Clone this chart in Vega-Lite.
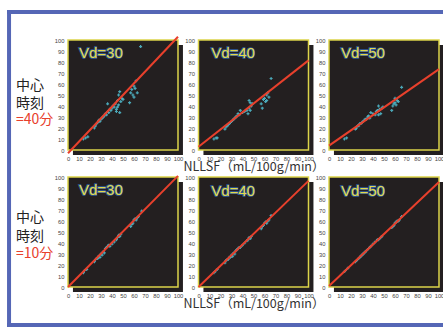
{
"$schema": "https://vega.github.io/schema/vega-lite/v6.json",
"padding": {"left": 6, "top": 9, "right": 0, "bottom": 1},
"background": "white",
"bounds": "flush",
"columns": 3,
"spacing": {"row": 27, "column": 20.5},
"datasets": {
 "panels": [
  {"t":"40","vd":"30","label":"Vd=30"},{"t":"40","vd":"40","label":"Vd=40"},{"t":"40","vd":"50","label":"Vd=50"},
  {"t":"10","vd":"30","label":"Vd=30"},{"t":"10","vd":"40","label":"Vd=40"},{"t":"10","vd":"50","label":"Vd=50"}
 ],
 "rowlab": [
  {"t":"40","a":"中心","b":"時刻","c":"=40分"},
  {"t":"10","a":"中心","b":"時刻","c":"=10分"}
 ],
 "fit": [
  {"t":"40","vd":"30","x":[0,100],"y":[-3,103]},
  {"t":"40","vd":"40","x":[0,100],"y":[3,81.5]},
  {"t":"40","vd":"50","x":[0,100],"y":[4,73.5]},
  {"t":"10","vd":"30","x":[0,100],"y":[0,101]},
  {"t":"10","vd":"40","x":[0,100],"y":[0,96.5]},
  {"t":"10","vd":"50","x":[0,100],"y":[1,95.5]}
 ],
 "pts": [
  {"t":"40","vd":"30","x":[14,16,18,24,25,26,27,28,29,30,31,32,33,34,35,36,37,38,39,40,41,42,43,44,45,46,47,48,46,45,49,50,44,47,36,56,57,58,59,60,61,62,63,60,66],"y":[10,11,12,20,22,24,25,27,26,28,29,30,31,33,32,35,34,37,36,38,40,39,42,37,45,50,53,44,41,39,47,46,35,34,42,43,52,55,50,58,56,63,52,48,94]},
  {"t":"40","vd":"40","x":[14,16,17,24,25,26,27,28,29,30,31,32,33,34,35,36,37,38,40,42,44,45,46,46,47,48,49,47,57,58,59,60,61,62,63,64,62,66],"y":[10,11,11,19,21,22,23,24,25,26,27,28,29,30,31,33,32,36,34,35,36,33,38,45,43,40,42,36,42,38,46,47,44,50,52,48,45,65]},
  {"t":"40","vd":"50","x":[14,16,24,25,26,27,28,29,30,31,32,33,34,35,36,37,38,40,42,43,44,45,46,47,48,45,49,57,58,59,60,61,62,63,60,66],"y":[10,11,19,20,22,22,24,24,25,26,27,28,28,30,31,29,34,33,32,35,36,40,37,33,38,32,39,36,40,42,43,41,45,44,47,57]},
  {"t":"10","vd":"30","x":[14,15,17,24,25,26,27,28,29,30,31,32,33,34,35,36,37,38,40,42,44,45,46,47,48,57,58,59,60,61,62,63,64,67],"y":[13,15,16,23,25,26,26,28,27,30,29,32,31,35,36,37,38,37,39,41,43,45,47,46,48,55,57,58,61,62,61,63,64,69]},
  {"t":"10","vd":"40","x":[14,15,17,24,25,26,27,28,29,30,31,32,33,34,35,36,37,38,40,42,44,45,46,47,48,57,58,59,60,61,62,63,64,66],"y":[13,14,16,22,24,25,25,27,27,29,28,31,30,33,34,35,36,36,38,40,42,43,45,44,46,53,55,56,58,59,58,60,61,65]},
  {"t":"10","vd":"50","x":[14,15,17,24,25,26,27,28,29,30,31,32,33,34,35,36,37,38,40,42,44,45,46,47,48,57,58,59,60,61,62,63,64,66],"y":[14,15,17,23,24,25,26,27,28,29,30,31,32,33,34,35,36,37,39,41,43,43,44,45,46,54,55,56,58,59,60,60,61,64]}
 ]
},
"concat": [
 {"width":110,"height":110,"layer":[
  {"data":{"name":"panels"},"transform":[{"filter":"datum.t=='40'&&datum.vd=='30'"}],"mark":{"type":"rule","color":"#5567b6","strokeWidth":4,"strokeCap":"square","clip":false},"encoding":{"x":{"datum":-53.6},"x2":{"datum":340},"y":{"datum":125.5}}},
  {"data":{"name":"panels"},"transform":[{"filter":"datum.t=='40'&&datum.vd=='30'"}],"mark":{"type":"rule","color":"#5567b6","strokeWidth":4,"strokeCap":"square","clip":false},"encoding":{"x":{"datum":-53.6},"x2":{"datum":340},"y":{"datum":-159.1}}},
  {"data":{"name":"panels"},"transform":[{"filter":"datum.t=='40'&&datum.vd=='30'"}],"mark":{"type":"rule","color":"#5567b6","strokeWidth":4,"strokeCap":"square","clip":false},"encoding":{"x":{"datum":-53.6},"y":{"datum":125.5},"y2":{"datum":-159.1}}},
  {"data":{"name":"rowlab"},"transform":[{"filter":"datum.t=='40'"}],"mark":{"type":"text","align":"left","baseline":"middle","font":"Noto Sans CJK JP","fontSize":14,"color":"#222222","clip":false},"encoding":{"x":{"datum":-47.3},"y":{"datum":58.2},"text":{"field":"a"}}},
  {"data":{"name":"rowlab"},"transform":[{"filter":"datum.t=='40'"}],"mark":{"type":"text","align":"left","baseline":"middle","font":"Noto Sans CJK JP","fontSize":14,"color":"#222222","clip":false},"encoding":{"x":{"datum":-47.3},"y":{"datum":41.8},"text":{"field":"b"}}},
  {"data":{"name":"rowlab"},"transform":[{"filter":"datum.t=='40'"}],"mark":{"type":"text","align":"left","baseline":"middle","font":"Noto Sans CJK JP","fontSize":14,"color":"#e8402c","clip":false},"encoding":{"x":{"datum":-47.3},"y":{"datum":27.3},"text":{"field":"c"}}},
  {"data":{"name":"panels"},"transform":[{"filter":"datum.t=='40'&&datum.vd=='30'"}],"mark":{"type":"rect","color":"#231f20","clip":false},"encoding":{"x":{"datum":4.5},"x2":{"datum":104.5},"y":{"datum":-4.5},"y2":{"datum":95.5}}},
  {"data":{"name":"panels"},"transform":[{"filter":"datum.t=='40'&&datum.vd=='30'"}],"mark":{"type":"rect","fill":"#231f20","stroke":"#dcd449","strokeWidth":1.5},"encoding":{"x":{"datum":0},"x2":{"datum":100},"y":{"datum":0},"y2":{"datum":100}}},
  {"data":{"name":"pts"},"transform":[{"filter":"datum.t=='40'&&datum.vd=='30'"},{"flatten":["x","y"]}],"mark":{"type":"point","shape":"cross","filled":true,"size":9,"color":"#4fb6c8","opacity":0.9},"encoding":{"x":{"field":"x","type":"quantitative","scale":{"domain":[0,100]},"axis":{"title":null}},"y":{"field":"y","type":"quantitative","scale":{"domain":[0,100]},"axis":{"title":null}}}},
  {"data":{"name":"fit"},"transform":[{"filter":"datum.t=='40'&&datum.vd=='30'"},{"flatten":["x","y"]}],"mark":{"type":"line","color":"#e8402c","strokeWidth":2,"clip":false},"encoding":{"x":{"field":"x","type":"quantitative"},"y":{"field":"y","type":"quantitative"}}},
  {"data":{"name":"panels"},"transform":[{"filter":"datum.t=='40'&&datum.vd=='30'"}],"mark":{"type":"text","align":"left","baseline":"middle","font":"Liberation Sans","fontSize":15,"fill":"#2d5a9c","stroke":"#2d5a9c","strokeWidth":1.6},"encoding":{"x":{"datum":10},"y":{"datum":88},"text":{"field":"label"}}},
  {"data":{"name":"panels"},"transform":[{"filter":"datum.t=='40'&&datum.vd=='30'"}],"mark":{"type":"text","align":"left","baseline":"middle","font":"Liberation Sans","fontSize":15,"fill":"#e3da4a"},"encoding":{"x":{"datum":10},"y":{"datum":88},"text":{"field":"label"}}}
 ]},
 {"width":110,"height":110,"layer":[
  {"data":{"name":"panels"},"transform":[{"filter":"datum.t=='40'&&datum.vd=='40'"}],"mark":{"type":"rect","color":"#231f20","clip":false},"encoding":{"x":{"datum":4.5},"x2":{"datum":104.5},"y":{"datum":-4.5},"y2":{"datum":95.5}}},
  {"data":{"name":"panels"},"transform":[{"filter":"datum.t=='40'&&datum.vd=='40'"}],"mark":{"type":"rect","fill":"#231f20","stroke":"#dcd449","strokeWidth":1.5},"encoding":{"x":{"datum":0},"x2":{"datum":100},"y":{"datum":0},"y2":{"datum":100}}},
  {"data":{"name":"pts"},"transform":[{"filter":"datum.t=='40'&&datum.vd=='40'"},{"flatten":["x","y"]}],"mark":{"type":"point","shape":"cross","filled":true,"size":9,"color":"#4fb6c8","opacity":0.9},"encoding":{"x":{"field":"x","type":"quantitative","scale":{"domain":[0,100]},"axis":{"title":"NLLSF（mL/100g/min）"}},"y":{"field":"y","type":"quantitative","scale":{"domain":[0,100]},"axis":{"title":null}}}},
  {"data":{"name":"fit"},"transform":[{"filter":"datum.t=='40'&&datum.vd=='40'"},{"flatten":["x","y"]}],"mark":{"type":"line","color":"#e8402c","strokeWidth":2,"clip":false},"encoding":{"x":{"field":"x","type":"quantitative"},"y":{"field":"y","type":"quantitative"}}},
  {"data":{"name":"panels"},"transform":[{"filter":"datum.t=='40'&&datum.vd=='40'"}],"mark":{"type":"text","align":"left","baseline":"middle","font":"Liberation Sans","fontSize":15,"fill":"#2d5a9c","stroke":"#2d5a9c","strokeWidth":1.6},"encoding":{"x":{"datum":11.5},"y":{"datum":88},"text":{"field":"label"}}},
  {"data":{"name":"panels"},"transform":[{"filter":"datum.t=='40'&&datum.vd=='40'"}],"mark":{"type":"text","align":"left","baseline":"middle","font":"Liberation Sans","fontSize":15,"fill":"#e3da4a"},"encoding":{"x":{"datum":11.5},"y":{"datum":88},"text":{"field":"label"}}}
 ]},
 {"width":110,"height":110,"layer":[
  {"data":{"name":"panels"},"transform":[{"filter":"datum.t=='40'&&datum.vd=='50'"}],"mark":{"type":"rect","color":"#231f20","clip":false},"encoding":{"x":{"datum":4.5},"x2":{"datum":104.5},"y":{"datum":-4.5},"y2":{"datum":95.5}}},
  {"data":{"name":"panels"},"transform":[{"filter":"datum.t=='40'&&datum.vd=='50'"}],"mark":{"type":"rect","fill":"#231f20","stroke":"#dcd449","strokeWidth":1.5},"encoding":{"x":{"datum":0},"x2":{"datum":100},"y":{"datum":0},"y2":{"datum":100}}},
  {"data":{"name":"pts"},"transform":[{"filter":"datum.t=='40'&&datum.vd=='50'"},{"flatten":["x","y"]}],"mark":{"type":"point","shape":"cross","filled":true,"size":9,"color":"#4fb6c8","opacity":0.9},"encoding":{"x":{"field":"x","type":"quantitative","scale":{"domain":[0,100]},"axis":{"title":null}},"y":{"field":"y","type":"quantitative","scale":{"domain":[0,100]},"axis":{"title":null}}}},
  {"data":{"name":"fit"},"transform":[{"filter":"datum.t=='40'&&datum.vd=='50'"},{"flatten":["x","y"]}],"mark":{"type":"line","color":"#e8402c","strokeWidth":2,"clip":false},"encoding":{"x":{"field":"x","type":"quantitative"},"y":{"field":"y","type":"quantitative"}}},
  {"data":{"name":"panels"},"transform":[{"filter":"datum.t=='40'&&datum.vd=='50'"}],"mark":{"type":"text","align":"left","baseline":"middle","font":"Liberation Sans","fontSize":15,"fill":"#2d5a9c","stroke":"#2d5a9c","strokeWidth":1.6},"encoding":{"x":{"datum":11},"y":{"datum":88},"text":{"field":"label"}}},
  {"data":{"name":"panels"},"transform":[{"filter":"datum.t=='40'&&datum.vd=='50'"}],"mark":{"type":"text","align":"left","baseline":"middle","font":"Liberation Sans","fontSize":15,"fill":"#e3da4a"},"encoding":{"x":{"datum":11},"y":{"datum":88},"text":{"field":"label"}}}
 ]},
 {"width":110,"height":110,"layer":[
  {"data":{"name":"rowlab"},"transform":[{"filter":"datum.t=='10'"}],"mark":{"type":"text","align":"left","baseline":"middle","font":"Noto Sans CJK JP","fontSize":14,"color":"#222222","clip":false},"encoding":{"x":{"datum":-47.3},"y":{"datum":62.7},"text":{"field":"a"}}},
  {"data":{"name":"rowlab"},"transform":[{"filter":"datum.t=='10'"}],"mark":{"type":"text","align":"left","baseline":"middle","font":"Noto Sans CJK JP","fontSize":14,"color":"#222222","clip":false},"encoding":{"x":{"datum":-47.3},"y":{"datum":45.5},"text":{"field":"b"}}},
  {"data":{"name":"rowlab"},"transform":[{"filter":"datum.t=='10'"}],"mark":{"type":"text","align":"left","baseline":"middle","font":"Noto Sans CJK JP","fontSize":14,"color":"#e8402c","clip":false},"encoding":{"x":{"datum":-47.3},"y":{"datum":30},"text":{"field":"c"}}},
  {"data":{"name":"panels"},"transform":[{"filter":"datum.t=='10'&&datum.vd=='30'"}],"mark":{"type":"rect","color":"#231f20","clip":false},"encoding":{"x":{"datum":4.5},"x2":{"datum":104.5},"y":{"datum":-4.5},"y2":{"datum":95.5}}},
  {"data":{"name":"panels"},"transform":[{"filter":"datum.t=='10'&&datum.vd=='30'"}],"mark":{"type":"rect","fill":"#231f20","stroke":"#dcd449","strokeWidth":1.5},"encoding":{"x":{"datum":0},"x2":{"datum":100},"y":{"datum":0},"y2":{"datum":100}}},
  {"data":{"name":"pts"},"transform":[{"filter":"datum.t=='10'&&datum.vd=='30'"},{"flatten":["x","y"]}],"mark":{"type":"point","shape":"cross","filled":true,"size":9,"color":"#4fb6c8","opacity":0.9},"encoding":{"x":{"field":"x","type":"quantitative","scale":{"domain":[0,100]},"axis":{"title":null}},"y":{"field":"y","type":"quantitative","scale":{"domain":[0,100]},"axis":{"title":null}}}},
  {"data":{"name":"fit"},"transform":[{"filter":"datum.t=='10'&&datum.vd=='30'"},{"flatten":["x","y"]}],"mark":{"type":"line","color":"#e8402c","strokeWidth":2,"clip":false},"encoding":{"x":{"field":"x","type":"quantitative"},"y":{"field":"y","type":"quantitative"}}},
  {"data":{"name":"panels"},"transform":[{"filter":"datum.t=='10'&&datum.vd=='30'"}],"mark":{"type":"text","align":"left","baseline":"middle","font":"Liberation Sans","fontSize":15,"fill":"#2d5a9c","stroke":"#2d5a9c","strokeWidth":1.6},"encoding":{"x":{"datum":10},"y":{"datum":88},"text":{"field":"label"}}},
  {"data":{"name":"panels"},"transform":[{"filter":"datum.t=='10'&&datum.vd=='30'"}],"mark":{"type":"text","align":"left","baseline":"middle","font":"Liberation Sans","fontSize":15,"fill":"#e3da4a"},"encoding":{"x":{"datum":10},"y":{"datum":88},"text":{"field":"label"}}}
 ]},
 {"width":110,"height":110,"layer":[
  {"data":{"name":"panels"},"transform":[{"filter":"datum.t=='10'&&datum.vd=='40'"}],"mark":{"type":"rect","color":"#231f20","clip":false},"encoding":{"x":{"datum":4.5},"x2":{"datum":104.5},"y":{"datum":-4.5},"y2":{"datum":95.5}}},
  {"data":{"name":"panels"},"transform":[{"filter":"datum.t=='10'&&datum.vd=='40'"}],"mark":{"type":"rect","fill":"#231f20","stroke":"#dcd449","strokeWidth":1.5},"encoding":{"x":{"datum":0},"x2":{"datum":100},"y":{"datum":0},"y2":{"datum":100}}},
  {"data":{"name":"pts"},"transform":[{"filter":"datum.t=='10'&&datum.vd=='40'"},{"flatten":["x","y"]}],"mark":{"type":"point","shape":"cross","filled":true,"size":9,"color":"#4fb6c8","opacity":0.9},"encoding":{"x":{"field":"x","type":"quantitative","scale":{"domain":[0,100]},"axis":{"title":"NLLSF（mL/100g/min）"}},"y":{"field":"y","type":"quantitative","scale":{"domain":[0,100]},"axis":{"title":null}}}},
  {"data":{"name":"fit"},"transform":[{"filter":"datum.t=='10'&&datum.vd=='40'"},{"flatten":["x","y"]}],"mark":{"type":"line","color":"#e8402c","strokeWidth":2,"clip":false},"encoding":{"x":{"field":"x","type":"quantitative"},"y":{"field":"y","type":"quantitative"}}},
  {"data":{"name":"panels"},"transform":[{"filter":"datum.t=='10'&&datum.vd=='40'"}],"mark":{"type":"text","align":"left","baseline":"middle","font":"Liberation Sans","fontSize":15,"fill":"#2d5a9c","stroke":"#2d5a9c","strokeWidth":1.6},"encoding":{"x":{"datum":11.5},"y":{"datum":87},"text":{"field":"label"}}},
  {"data":{"name":"panels"},"transform":[{"filter":"datum.t=='10'&&datum.vd=='40'"}],"mark":{"type":"text","align":"left","baseline":"middle","font":"Liberation Sans","fontSize":15,"fill":"#e3da4a"},"encoding":{"x":{"datum":11.5},"y":{"datum":87},"text":{"field":"label"}}}
 ]},
 {"width":110,"height":110,"layer":[
  {"data":{"name":"panels"},"transform":[{"filter":"datum.t=='10'&&datum.vd=='50'"}],"mark":{"type":"rect","color":"#231f20","clip":false},"encoding":{"x":{"datum":4.5},"x2":{"datum":104.5},"y":{"datum":-4.5},"y2":{"datum":95.5}}},
  {"data":{"name":"panels"},"transform":[{"filter":"datum.t=='10'&&datum.vd=='50'"}],"mark":{"type":"rect","fill":"#231f20","stroke":"#dcd449","strokeWidth":1.5},"encoding":{"x":{"datum":0},"x2":{"datum":100},"y":{"datum":0},"y2":{"datum":100}}},
  {"data":{"name":"pts"},"transform":[{"filter":"datum.t=='10'&&datum.vd=='50'"},{"flatten":["x","y"]}],"mark":{"type":"point","shape":"cross","filled":true,"size":9,"color":"#4fb6c8","opacity":0.9},"encoding":{"x":{"field":"x","type":"quantitative","scale":{"domain":[0,100]},"axis":{"title":null}},"y":{"field":"y","type":"quantitative","scale":{"domain":[0,100]},"axis":{"title":null}}}},
  {"data":{"name":"fit"},"transform":[{"filter":"datum.t=='10'&&datum.vd=='50'"},{"flatten":["x","y"]}],"mark":{"type":"line","color":"#e8402c","strokeWidth":2,"clip":false},"encoding":{"x":{"field":"x","type":"quantitative"},"y":{"field":"y","type":"quantitative"}}},
  {"data":{"name":"panels"},"transform":[{"filter":"datum.t=='10'&&datum.vd=='50'"}],"mark":{"type":"text","align":"left","baseline":"middle","font":"Liberation Sans","fontSize":15,"fill":"#2d5a9c","stroke":"#2d5a9c","strokeWidth":1.6},"encoding":{"x":{"datum":11},"y":{"datum":87},"text":{"field":"label"}}},
  {"data":{"name":"panels"},"transform":[{"filter":"datum.t=='10'&&datum.vd=='50'"}],"mark":{"type":"text","align":"left","baseline":"middle","font":"Liberation Sans","fontSize":15,"fill":"#e3da4a"},"encoding":{"x":{"datum":11},"y":{"datum":87},"text":{"field":"label"}}}
 ]}
],
"config": {
 "view": {"stroke": null},
 "axis": {"domain": false, "ticks": false, "grid": false, "tickCount": 11, "labelFont": "Liberation Sans", "labelFontSize": 5.8, "labelColor": "#444444", "labelPadding": 4, "labelOverlap": false, "labelFlush": false, "titleFont": "Noto Sans CJK JP", "titleFontSize": 12.5, "titleFontWeight": "normal", "titleColor": "#333333", "titlePadding": 0},
 "axisX": {"labelPadding": 5}
}
}
